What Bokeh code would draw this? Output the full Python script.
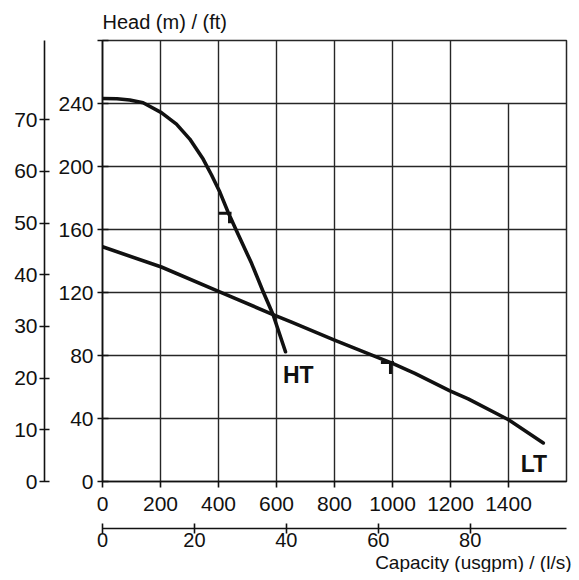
from bokeh.plotting import figure
from bokeh.models import (LinearAxis, Range1d, FixedTicker, ColumnDataSource, Title)
from bokeh.embed import file_html
from bokeh.resources import INLINE
from bokeh.core.properties import value

# ---------------- data (capacity in usgpm, head in ft) ----------------
HT_Q = [0, 50, 94, 140, 203, 255, 301, 347, 376, 405, 433, 460, 514, 554, 588, 631]
HT_H = [243.2, 243.0, 242.2, 240.5, 234.2, 226.9, 217.4, 204.7, 194.6, 183.6, 171.0,
        160.0, 138.5, 120.5, 106.0, 82.4]

LT_Q = [0, 203, 404, 588, 652, 800, 1000, 1077, 1198, 1261, 1400, 1520]
LT_H = [149.0, 136.2, 120.4, 106.0, 101.2, 89.8, 75.0, 68.7, 57.6, 52.5, 39.2, 24.5]

# best-efficiency marks ("T" shaped ticks on each curve)
MARK_Q = [438, 993]
MARK_H = [170.3, 75.6]
MARK_DASH_Q0 = [401, 960]
MARK_DASH_Q1 = [445, 1005]
MARK_STEM_H1 = [164.0, 68.3]

CURVE_NAMES = ["HT", "LT"]
NAME_Q = [622, 1442]
NAME_H = [67.7, 11.0]

USGPM_TICKS = [0, 200, 400, 600, 800, 1000, 1200, 1400]
LS_TICKS = [0, 20, 40, 60, 80]
FT_TICKS = [0, 40, 80, 120, 160, 200, 240, 280]
M_TICKS = [0, 10, 20, 30, 40, 50, 60, 70]
GRID_Q = [200, 400, 600, 800, 1000, 1200]
GRID_H = [40, 80, 120, 160, 200, 240]
PART_GRID_Q = [1400]
PART_GRID_TOP = [240]

Q_MAX = 1600
H_MAX_FT = 280
FT_PER_M = 3.28084
USGPM_PER_LS = 15.850

FONT = "Liberation Sans"
INK = "#111111"
GRID_INK = "#262626"

p = figure(frame_width=464, frame_height=441,
           x_range=Range1d(0, Q_MAX), y_range=Range1d(0, H_MAX_FT),
           output_backend="svg", toolbar_location=None,
           min_border_left=0, min_border_top=0, min_border_right=6, min_border_bottom=0,
           title="Head (m) / (ft)",
           outline_line_color=GRID_INK, outline_line_width=1.5,
           background_fill_color="white", border_fill_color="white")

p.title.text_font = FONT
p.title.text_font_size = "20px"
p.title.text_font_style = "normal"
p.title.text_color = INK
p.title.align = "left"
p.title.offset = 0
p.title.standoff = 16

p.extra_y_ranges = {"m": Range1d(0, H_MAX_FT / FT_PER_M)}
p.extra_x_ranges = {"ls": Range1d(0, Q_MAX / USGPM_PER_LS)}

# grids
p.xgrid.ticker = FixedTicker(ticks=GRID_Q)
p.ygrid.ticker = FixedTicker(ticks=GRID_H)
for g in (p.xgrid[0], p.ygrid[0]):
    g.grid_line_color = GRID_INK
    g.grid_line_width = 1.4
    g.grid_line_alpha = 1.0

p.segment(x0=PART_GRID_Q, y0=[0] * len(PART_GRID_Q), x1=PART_GRID_Q, y1=PART_GRID_TOP,
          line_color=GRID_INK, line_width=1.4)

def style_axis(ax, ticks, tin, tout, standoff, size="21px"):
    ax.ticker = FixedTicker(ticks=ticks)
    ax.major_tick_in = tin
    ax.major_tick_out = tout
    ax.minor_tick_in = 0
    ax.minor_tick_out = 0
    ax.major_label_standoff = standoff
    ax.major_label_text_font = FONT
    ax.major_label_text_font_size = size
    ax.major_label_text_color = INK
    ax.axis_line_color = INK
    ax.axis_line_width = 1.6
    ax.major_tick_line_color = INK
    ax.major_tick_line_width = 1.6

def pad_axis(ax, px):
    ax.axis_label = " "
    ax.axis_label_text_font_size = "1px"
    ax.axis_label_standoff = px

# ft axis (adjacent to frame)
ft_ax = p.yaxis[0]
style_axis(ft_ax, FT_TICKS, 6, 5, 4)
ft_ax.major_label_overrides = {280: ""}
pad_axis(ft_ax, 7)

# metre axis (outer left)
m_ax = LinearAxis(y_range_name="m")
style_axis(m_ax, M_TICKS, 5, 5, 2)
pad_axis(m_ax, 7)
p.add_layout(m_ax, "left")

# usgpm axis (adjacent to frame bottom)
q_ax = p.xaxis[0]
style_axis(q_ax, USGPM_TICKS, 0, 6, 9)
pad_axis(q_ax, 11)

# l/s axis (outer bottom)
ls_ax = LinearAxis(x_range_name="ls")
style_axis(ls_ax, LS_TICKS, 5, 5, -1, size="20px")
p.add_layout(ls_ax, "below")

# capacity caption, right aligned below the axes
cap = Title(text="Capacity (usgpm) / (l/s)", align="right", offset=-5, standoff=0,
            vertical_align="bottom",
            text_font=FONT, text_font_size="19px", text_font_style="normal",
            text_color=INK)
p.add_layout(cap, "below")

# curves
p.line(HT_Q, HT_H, line_color=INK, line_width=3.6, line_join="round", line_cap="round")
p.line(LT_Q, LT_H, line_color=INK, line_width=3.6, line_join="round", line_cap="round")

# marks
p.segment(x0=MARK_DASH_Q0, y0=MARK_H, x1=MARK_DASH_Q1, y1=MARK_H, line_color=INK, line_width=3)
p.segment(x0=MARK_Q, y0=MARK_H, x1=MARK_Q, y1=MARK_STEM_H1, line_color=INK, line_width=3)

# curve names
names = ColumnDataSource(dict(x=NAME_Q, y=NAME_H, t=CURVE_NAMES))
p.text(x="x", y="y", text="t", source=names, text_font=value(FONT), text_font_size="23px",
       text_font_style="bold", text_color=INK, text_align="left", text_baseline="middle")

open("out.html", "w").write(file_html(p, INLINE))
